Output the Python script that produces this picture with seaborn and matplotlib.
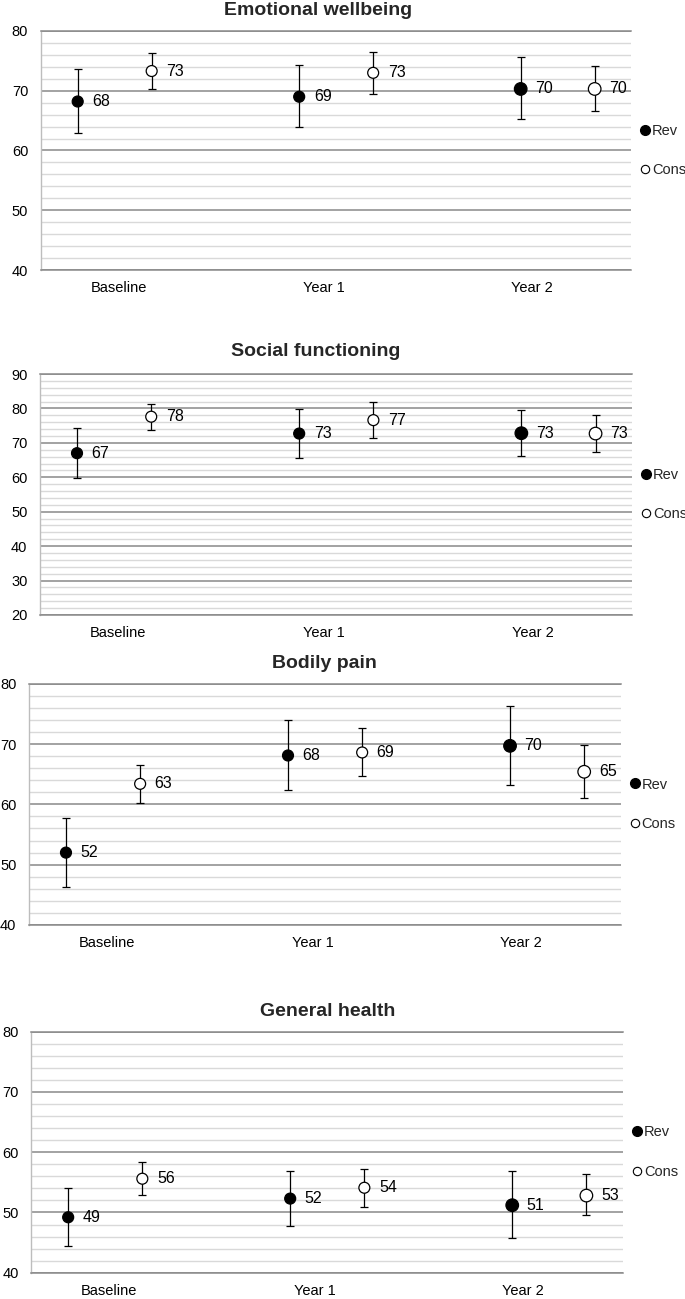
import numpy as np
import pandas as pd
import matplotlib
matplotlib.use("Agg")
import matplotlib.pyplot as plt
import seaborn as sns
from matplotlib.lines import Line2D

# ---------------- data ----------------
categories = ["Baseline", "Year 1", "Year 2"]
groups = ["Rev", "Cons"]

titles = ["Emotional wellbeing", "Social functioning", "Bodily pain", "General health"]
y_ranges = [(40, 80), (20, 90), (40, 80), (40, 80)]

# Emotional wellbeing
ew_rev_mean = [68.2, 69.0, 70.3]
ew_rev_lo = [63.0, 63.9, 65.2]
ew_rev_hi = [73.6, 74.3, 75.7]
ew_cons_mean = [73.3, 73.0, 70.3]
ew_cons_lo = [70.3, 69.5, 66.6]
ew_cons_hi = [76.4, 76.5, 74.1]
ew_rev_label = [68, 69, 70]
ew_cons_label = [73, 73, 70]

# Social functioning
sf_rev_mean = [67.0, 72.7, 72.8]
sf_rev_lo = [59.9, 65.7, 66.1]
sf_rev_hi = [74.2, 79.7, 79.6]
sf_cons_mean = [77.6, 76.6, 72.7]
sf_cons_lo = [73.7, 71.4, 67.3]
sf_cons_hi = [81.4, 81.8, 78.0]
sf_rev_label = [67, 73, 73]
sf_cons_label = [78, 77, 73]

# Bodily pain
bp_rev_mean = [52.0, 68.1, 69.7]
bp_rev_lo = [46.3, 62.3, 63.2]
bp_rev_hi = [57.7, 74.0, 76.3]
bp_cons_mean = [63.4, 68.6, 65.4]
bp_cons_lo = [60.2, 64.7, 61.1]
bp_cons_hi = [66.6, 72.7, 69.8]
bp_rev_label = [52, 68, 70]
bp_cons_label = [63, 69, 65]

# General health
gh_rev_mean = [49.2, 52.3, 51.2]
gh_rev_lo = [44.4, 47.8, 45.8]
gh_rev_hi = [54.1, 56.8, 56.8]
gh_cons_mean = [55.6, 54.1, 52.8]
gh_cons_lo = [52.9, 50.9, 49.5]
gh_cons_hi = [58.3, 57.2, 56.3]
gh_rev_label = [49, 52, 51]
gh_cons_label = [56, 54, 53]

panel_data = [
    (ew_rev_mean, ew_rev_lo, ew_rev_hi, ew_rev_label, ew_cons_mean, ew_cons_lo, ew_cons_hi, ew_cons_label),
    (sf_rev_mean, sf_rev_lo, sf_rev_hi, sf_rev_label, sf_cons_mean, sf_cons_lo, sf_cons_hi, sf_cons_label),
    (bp_rev_mean, bp_rev_lo, bp_rev_hi, bp_rev_label, bp_cons_mean, bp_cons_lo, bp_cons_hi, bp_cons_label),
    (gh_rev_mean, gh_rev_lo, gh_rev_hi, gh_rev_label, gh_cons_mean, gh_cons_lo, gh_cons_hi, gh_cons_label),
]

# ---------------- style / layout ----------------
sns.set_theme(style="white")
plt.rcParams["font.family"] = ["Liberation Sans", "DejaVu Sans"]

W, H = 685, 1299
fig = plt.figure(figsize=(W / 100, H / 100), dpi=100)

# pixel boxes: left, right, top, bottom, title x, title y
layout = [
    (40.7, 631.0, 31.0, 270.0, 318, 10.5),
    (39.9, 632.0, 374.0, 615.0, 316, 352),
    (28.9, 620.6, 683.7, 925.0, 324, 663),
    (31.1, 622.8, 1031.7, 1272.7, 328, 1011),
]

offsets = {"Rev": -0.167, "Cons": 0.167}
tick_pos = [0.018, 0.946, 1.883]
MAJOR = "#898989"
MINOR = "#d9d9d9"

for k in range(4):
    l, r, t, b, tx, ty = layout[k]
    ax = fig.add_axes([l / W, 1 - b / H, (r - l) / W, (b - t) / H])
    rm, rlo, rhi, rlab, cm, clo, chi, clab = panel_data[k]

    rows = []
    for i, cat in enumerate(categories):
        rows.append(dict(group="Rev", cat=cat, t=i, x=i + offsets["Rev"], mean=rm[i], lo=rlo[i], hi=rhi[i], lab=rlab[i]))
        rows.append(dict(group="Cons", cat=cat, t=i, x=i + offsets["Cons"], mean=cm[i], lo=clo[i], hi=chi[i], lab=clab[i]))
    df = pd.DataFrame(rows)

    ax.errorbar(df["x"], df["mean"], yerr=[df["mean"] - df["lo"], df["hi"] - df["mean"]],
                fmt="none", ecolor="black", elinewidth=0.9, capsize=3.2, capthick=0.9, zorder=2)
    sns.scatterplot(data=df, x="x", y="mean", hue="group", palette={"Rev": "black", "Cons": "white"},
                    size="t", sizes={0: 62, 1: 62, 2: 82}, edgecolor="black", linewidth=0.9,
                    legend=False, ax=ax, zorder=3)
    for _, row in df.iterrows():
        ax.annotate(str(row["lab"]), (row["x"], row["mean"]), xytext=(10.5, 0),
                    textcoords="offset points", ha="left", va="center", fontsize=11.5, color="black")

    ylo, yhi = y_ranges[k]
    ax.set_xlim(-0.334, 2.331)
    ax.set_ylim(ylo, yhi)
    ax.set_yticks(np.arange(ylo, yhi + 1, 10))
    ax.set_yticks(np.arange(ylo, yhi + 1, 2), minor=True)
    ax.set_xticks(tick_pos)
    ax.set_xticklabels(categories)
    ax.set_xlabel("")
    ax.set_ylabel("")
    ax.grid(False)
    ax.grid(axis="y", which="minor", color=MINOR, lw=1.0, zorder=0)
    ax.grid(axis="y", which="major", color=MAJOR, lw=1.1, zorder=0)
    ax.set_axisbelow(True)
    ax.spines["right"].set_visible(False)
    ax.spines["top"].set_color(MAJOR)
    ax.spines["top"].set_linewidth(1.1)
    ax.spines["bottom"].set_color(MAJOR)
    ax.spines["bottom"].set_linewidth(1.1)
    ax.spines["left"].set_color("#bdbdbd")
    ax.spines["left"].set_linewidth(1.0)
    ax.tick_params(axis="y", which="both", length=0, pad=9, labelsize=10.5, labelcolor="black")
    ax.tick_params(axis="x", which="both", length=0, pad=8, labelsize=10.5, labelcolor="black")

    handles = [
        Line2D([], [], marker="o", ls="", mfc="black", mec="black", ms=7),
        Line2D([], [], marker="o", ls="", mfc="white", mec="black", ms=6, mew=0.8),
    ]
    ax.legend(handles, groups, loc="center left", bbox_to_anchor=(1.017, 0.5), frameon=False,
              handlelength=0.6, handletextpad=0.15, labelspacing=1.75, fontsize=10.5,
              borderaxespad=0, borderpad=0)

    fig.text(tx / W, 1 - ty / H, titles[k], ha="center", va="center", fontsize=14, fontweight="bold")

fig.savefig("out.png", dpi=100, facecolor="white")
